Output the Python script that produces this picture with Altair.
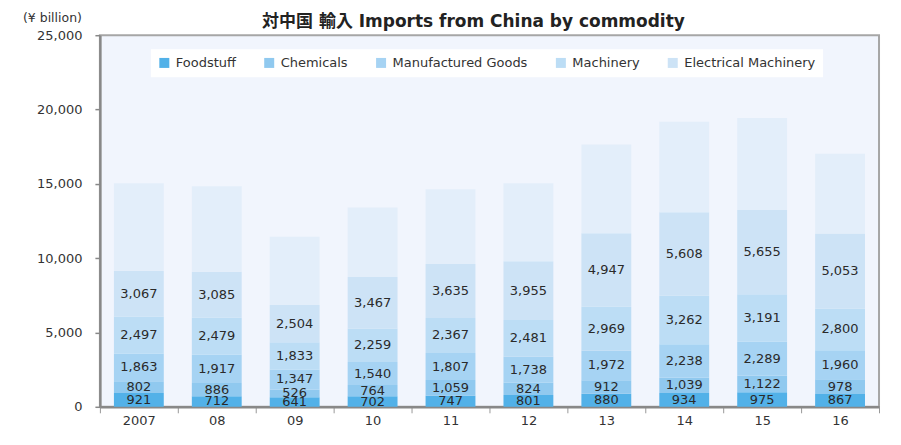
import altair as alt
import pandas as pd

years = ["2007", "08", "09", "10", "11", "12", "13", "14", "15", "16"]
categories = ["Foodstuff", "Chemicals", "Manufactured Goods", "Machinery",
              "Electrical Machinery", "Others"]
foodstuff = [921, 712, 641, 702, 747, 801, 880, 934, 975, 867]
chemicals = [802, 886, 526, 764, 1059, 824, 912, 1039, 1122, 978]
manufactured = [1863, 1917, 1347, 1540, 1807, 1738, 1972, 2238, 2289, 1960]
machinery = [2497, 2479, 1833, 2259, 2367, 2481, 2969, 3262, 3191, 2800]
electrical = [3067, 3085, 2504, 3467, 3635, 3955, 4947, 5608, 5655, 5053]
others = [5885, 5751, 4585, 4681, 5027, 5240, 5971, 6097, 6197, 5361]
colors = ["#52B1E8", "#90C9EF", "#A6D3F3", "#BCDDF5", "#CDE3F6", "#E3EEFA"]

series = [foodstuff, chemicals, manufactured, machinery, electrical, others]
rows = []
for ci, (cat, vals) in enumerate(zip(categories, series)):
    for y, v in zip(years, vals):
        rows.append({"year": y, "category": cat, "value": v, "order": ci})
df = pd.DataFrame(rows)

FONT = "DejaVu Sans"

base = alt.Chart(df).transform_stack(
    stack="value", as_=["y0", "y1"], groupby=["year"],
    sort=[alt.SortField("order", order="ascending")]
).transform_calculate(mid="(datum.y0 + datum.y1) / 2")

x_enc = alt.X("year:N", sort=years,
              scale=alt.Scale(paddingInner=0, paddingOuter=0),
              axis=alt.Axis(title=None, labelAngle=0, tickBand="extent",
                            domainColor="#888888", domainWidth=2.5,
                            tickColor="#999999", tickSize=6, tickWidth=1,
                            labelPadding=2, labelFontSize=13, labelColor="#333333",
                            labelFont=FONT))

bars = base.mark_bar(width=alt.RelativeBandSize(0.64)).encode(
    x=x_enc,
    y=alt.Y("y0:Q", scale=alt.Scale(domain=[0, 25000], nice=False),
            axis=alt.Axis(values=[0, 5000, 10000, 15000, 20000, 25000], format=",d",
                          grid=False, domainColor="#888888", domainWidth=2.5,
                          tickColor="#888888", tickSize=5, tickWidth=1.5,
                          labelPadding=13, labelFontSize=13, labelColor="#333333",
                          labelFont=FONT,
                          title="(¥ billion)", titleAngle=0, titleX=-48, titleY=-18,
                          titleAlign="center", titleBaseline="middle",
                          titleFontWeight="normal", titleFontSize=12.5,
                          titleColor="#333333", titleFont=FONT)),
    y2="y1:Q",
    color=alt.Color("category:N",
                    scale=alt.Scale(domain=categories, range=colors),
                    legend=alt.Legend(title=None, orient="none", direction="horizontal",
                                      legendX=51, legendY=14,
                                      values=categories[:5],
                                      symbolType="square", symbolSize=100,
                                      symbolStrokeWidth=0,
                                      labelFontSize=13, labelColor="#333333",
                                      labelFont=FONT, columnPadding=26,
                                      labelOffset=5,
                                      fillColor="white", padding=7)),
    order=alt.Order("order:Q"),
)

labels = base.transform_filter("datum.category != 'Others'").mark_text(
    fontSize=13, color="#2A2A2A", font=FONT, baseline="middle"
).encode(
    x=alt.X("year:N", sort=years),
    y="mid:Q",
    text=alt.Text("value:Q", format=",d"),
)

chart = alt.layer(bars, labels).properties(
    width=780, height=372,
    autosize=alt.AutoSizeParams(type="none"),
    padding={"left": 92, "top": 27, "right": 14, "bottom": 30},
    title=alt.TitleParams("対中国 輸入  Imports from China by commodity",
                          font="DejaVu Sans, Noto Sans CJK JP", fontSize=17,
                          fontWeight="bold", color="#222222", anchor="middle",
                          dx=-16, dy=20, offset=0),
).configure_view(
    fill="#F1F5FD", stroke="#A6A6A6", strokeWidth=2
)

chart.save("out.html", embed_options={"renderer": "svg", "actions": False})
